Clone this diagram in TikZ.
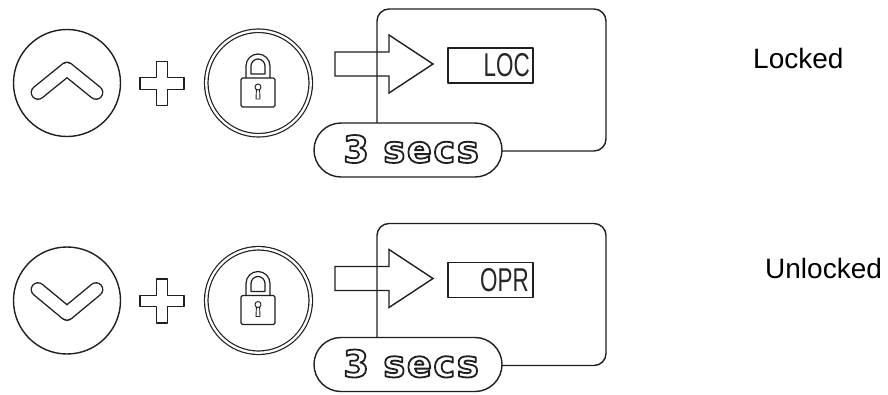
\documentclass[tikz,border=0pt]{standalone}
\usepackage{fontspec}
\setmainfont{Liberation Sans}
\newfontfamily\secsfont{DejaVu Sans}[LetterSpace=4]
\newcommand\hollowtext[1]{\special{pdf:literal direct 1 Tr 1.8 w}#1\special{pdf:literal direct 0 Tr}}
\usetikzlibrary{shapes.misc}
\begin{document}
\begin{tikzpicture}[x=1pt,y=-1pt,line join=round,
  ln/.style={line width=1.4pt,draw=black!88},
  chev/.style={line width=1.4pt,draw=black!88,double=white,double distance=12pt,line cap=round,line join=round},
  btn/.style={circle,ln,minimum size=107pt,inner sep=0pt},
  lockbtn/.style={circle,line width=1.2pt,draw=black!88,double=white,double distance=2.3pt,minimum size=104.5pt,inner sep=0pt},
  panel/.style={ln,rounded corners=12pt,minimum width=229pt,minimum height=142pt,inner sep=0pt},
  pill/.style={ln,fill=white,rounded rectangle,minimum width=188pt,minimum height=54pt,inner sep=0pt},
  disp/.style={ln,minimum width=85pt,minimum height=35pt,inner sep=0pt},
  lcd/.style={anchor=east,inner sep=0pt,text=black!85,font=\fontsize{33}{35}\selectfont},
  secs/.style={inner sep=0pt,text=black!88,font=\secsfont\bfseries\fontsize{37}{40}\selectfont},
  state/.style={anchor=base west,inner sep=0pt,font=\fontsize{28}{32}\selectfont}]
\useasboundingbox (0,0) rectangle (888,394);

% ---------- row 1, buttons ----------
\node[btn] (up) at (67,83) {};
\draw[chev] (38,92.5) -- (67,69) -- (96,92.5);
\draw[ln] (156.25,61.5) -- (167.75,61.5) -- (167.75,77.75) -- (184,77.75) -- (184,89.25) -- (167.75,89.25) -- (167.75,105.5) -- (156.25,105.5) -- (156.25,89.25) -- (140,89.25) -- (140,77.75) -- (156.25,77.75) -- cycle;
\node[lockbtn] (lockA) at (258.5,83) {};
\draw[ln,line width=1.2pt,rounded corners=1.5pt] (241,78) rectangle (275,107);
\draw[ln,line width=1.2pt] (246,78) -- (246,66) arc (180:360:12) -- (270,78);
\draw[ln,line width=1.2pt] (251,74) -- (251,66) arc (180:360:7) -- (265,74) -- cycle;
\draw[ln,line width=0.9pt] (258,87) circle (3);
\draw[ln,line width=0.9pt] (256.4,89.6) -- (256,99) -- (260,99) -- (259.6,89.6);

% ---------- row 1, result ----------
\node[panel] (boxA) at (491.5,80) {};
\draw[ln,line join=miter] (335,52) -- (389,52) -- (389,35) -- (433,64) -- (389,93) -- (389,76) -- (335,76) -- cycle;
\node[disp] (dispA) at (490.5,65.5) {};
\node[lcd] (lcdA) at (530,65.5) {\scalebox{0.68}[1]{LOC}};
\node[pill] (pillA) at (408,150) {};
\node[secs] (secsA) at (411,149) {\hollowtext{3 secs}};
\node[state] (locked) at (753,68) {Locked};

% ---------- row 2, buttons ----------
\begin{scope}[yshift=-217.5pt]
\node[btn] (down) at (67,83) {};
\draw[chev] (38,72) -- (67,96) -- (96,72);
\draw[ln] (156.25,61.5) -- (167.75,61.5) -- (167.75,77.75) -- (184,77.75) -- (184,89.25) -- (167.75,89.25) -- (167.75,105.5) -- (156.25,105.5) -- (156.25,89.25) -- (140,89.25) -- (140,77.75) -- (156.25,77.75) -- cycle;
\node[lockbtn] (lockB) at (258.5,83) {};
\draw[ln,line width=1.2pt,rounded corners=1.5pt] (241,78) rectangle (275,107);
\draw[ln,line width=1.2pt] (246,78) -- (246,66) arc (180:360:12) -- (270,78);
\draw[ln,line width=1.2pt] (251,74) -- (251,66) arc (180:360:7) -- (265,74) -- cycle;
\draw[ln,line width=0.9pt] (258,87) circle (3);
\draw[ln,line width=0.9pt] (256.4,89.6) -- (256,99) -- (260,99) -- (259.6,89.6);
\end{scope}

% ---------- row 2, result ----------
\begin{scope}[yshift=-214.5pt]
\node[panel] (boxB) at (491.5,80) {};
\draw[ln,line join=miter] (335,52) -- (389,52) -- (389,35) -- (433,64) -- (389,93) -- (389,76) -- (335,76) -- cycle;
\node[disp] (dispB) at (490.5,65.5) {};
\node[lcd] (lcdB) at (529,65.5) {\scalebox{0.68}[1]{OPR}};
\node[pill] (pillB) at (408,150) {};
\node[secs] (secsB) at (411,149) {\hollowtext{3 secs}};
\node[state] (unlocked) at (765,63.5) {Unlocked};
\end{scope}
\end{tikzpicture}
\end{document}
